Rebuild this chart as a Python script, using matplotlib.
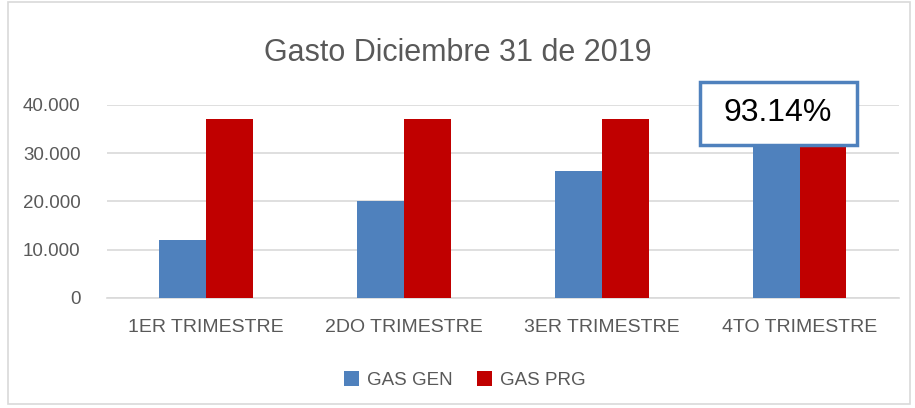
import matplotlib.pyplot as plt
import numpy as np
from matplotlib.patches import Rectangle

plt.rcParams['font.family'] = ['Liberation Sans', 'DejaVu Sans']

categorias = ['1ER TRIMESTRE', '2DO TRIMESTRE', '3ER TRIMESTRE', '4TO TRIMESTRE']
gas_gen = [11900, 20100, 26300, 34460]
gas_prg = [37000, 37000, 37000, 37000]
porcentaje = '93.14%'

fig = plt.figure(figsize=(9.15, 4.08), dpi=100)
ax = fig.add_axes([0.117, 0.27, 0.865, 0.473])

x = np.arange(len(categorias))
w = 0.237
ax.bar(x - w / 2, gas_gen, w, color='#4F81BD', label='GAS GEN', zorder=3)
ax.bar(x + w / 2, gas_prg, w, color='#C00000', label='GAS PRG', zorder=3)

ax.set_xlim(-0.5, len(categorias) - 0.5)
ax.set_ylim(0, 40000)
ax.set_yticks([0, 10000, 20000, 30000, 40000])
ax.set_yticklabels(['0', '10.000', '20.000', '30.000', '40.000'])
ax.set_xticks(x)
ax.set_xticklabels(categorias)
ax.tick_params(axis='y', length=0, labelsize=13.5, colors='#595959', pad=19)
ax.tick_params(axis='x', length=0, labelsize=14, colors='#595959', pad=15)
ax.grid(axis='y', color='#D9D9D9', linewidth=1.2, zorder=0)
for s in ['left', 'right', 'top']:
    ax.spines[s].set_visible(False)
ax.spines['bottom'].set_color('#D9D9D9')
ax.spines['bottom'].set_linewidth(1.2)

# caja del porcentaje sobre el 4to trimestre
ax.add_patch(Rectangle((2.495, 31710), 0.793, 13057, facecolor='white', edgecolor='#4F81BD',
                       linewidth=2.5, zorder=4, clip_on=False))
ax.text(2.889, 38342, porcentaje, ha='center', va='center', fontsize=23, color='black', zorder=5)

fig.text(0.5, 0.87, 'Gasto Diciembre 31 de 2019', ha='center', va='center', fontsize=22, color='#595959')

ax.legend(loc='center', bbox_to_anchor=(0.508, 0.068), bbox_transform=fig.transFigure, ncol=2,
          frameon=False, fontsize=13.5, labelcolor='#595959', handlelength=0.8, handleheight=0.8,
          columnspacing=1.3, handletextpad=0.45)

fig.patches.append(Rectangle((0.009, 0.01), 0.985, 0.985, transform=fig.transFigure,
                             fill=False, edgecolor='#D9D9D9', linewidth=1.2))

fig.savefig('out.png', dpi=100)
